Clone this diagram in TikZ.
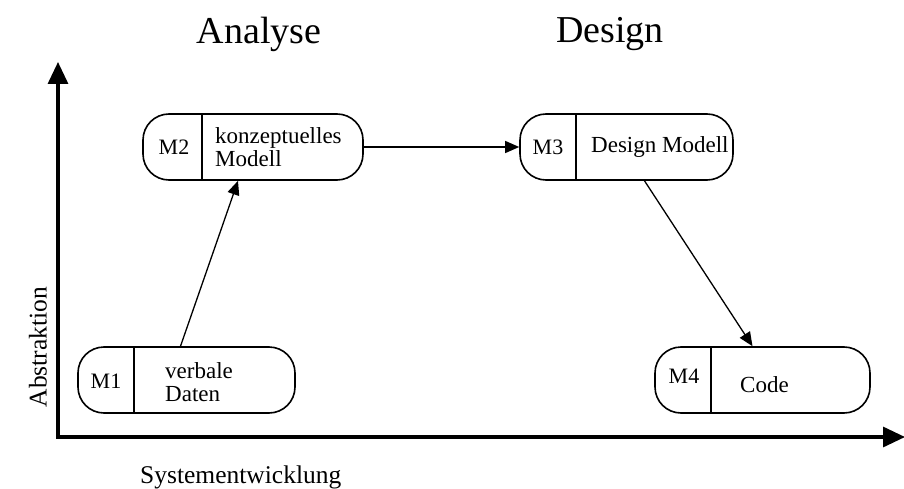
\documentclass[tikz,border=0pt]{standalone}
\usepackage{fontspec}
\setmainfont{Liberation Serif}
\usetikzlibrary{arrows.meta}
\begin{document}
\begin{tikzpicture}[x=1pt,y=-1pt,
  model/.style={draw,line width=1.6pt,rounded corners=26pt,minimum width=#1,minimum height=66pt,inner sep=0pt},
  tag/.style={font=\fontsize{22}{22}\selectfont,inner sep=0pt},
  txt/.style={font=\fontsize{23}{23}\selectfont,inner sep=0pt,align=left,anchor=west},
  flow/.style={line width=1.3pt,-{Triangle[length=14pt,width=12pt]}},
  axis/.style={line width=3.2pt,-{Triangle[length=22pt,width=20pt]}},
  title/.style={font=\fontsize{38}{40}\selectfont,inner sep=0pt},
  axlabel/.style={font=\fontsize{25.5}{26}\selectfont,inner sep=0pt}]
\useasboundingbox (0,0) rectangle (904,489);

% axes
\coordinate (origin) at (58,437);
\coordinate (ytip) at (58,62);
\coordinate (xtip) at (905,437);
\draw[axis] (origin) -- (ytip);
\draw[axis] ([xshift=-1.6pt]origin) -- (xtip);

% headings and axis labels
\node[title] (analyse) at (259,34) {Analyse};
\node[title] (design) at (610,34) {Design};
\node[axlabel,rotate=90] (abstr) at (38,347) {Abstraktion};
\node[axlabel,anchor=base west] (sysent) at (140,483) {Systementwicklung};

% model boxes
\node[model=220pt] (m2) at (253,147) {};
\node[model=213pt] (m3) at (626.5,147) {};
\node[model=217pt] (m1) at (186.5,380) {};
\node[model=215pt] (m4) at (762.5,380) {};

% dividers between tag and description
\draw[line width=1.6pt] ([xshift=60pt]m2.north west) -- ([xshift=60pt]m2.south west);
\draw[line width=1.6pt] ([xshift=57pt]m3.north west) -- ([xshift=57pt]m3.south west);
\draw[line width=1.6pt] ([xshift=57pt]m1.north west) -- ([xshift=57pt]m1.south west);
\draw[line width=1.6pt] ([xshift=57pt]m4.north west) -- ([xshift=57pt]m4.south west);

% tags
\node[tag] (m2t) at (174,147) {M2};
\node[tag] (m3t) at (548,147) {M3};
\node[tag] (m1t) at (106,381) {M1};
\node[tag] (m4t) at (684,376) {M4};

% descriptions
\node[txt] (m2d) at (215,147) {konzeptuelles\\Modell};
\node[txt] (m3d) at (591,147) {Design Modell};
\node[txt] (m1d) at (165,382) {verbale\\Daten};
\node[txt] (m4d) at (740,385) {Code};

% transitions between models
\draw[flow] ([xshift=-6pt]m1.north) -- ([xshift=-15pt]m2.south);
\draw[flow] (m2.east) -- (m3.west);
\draw[flow] ([xshift=18pt]m3.south) -- ([xshift=-10pt]m4.north);
\end{tikzpicture}
\end{document}
